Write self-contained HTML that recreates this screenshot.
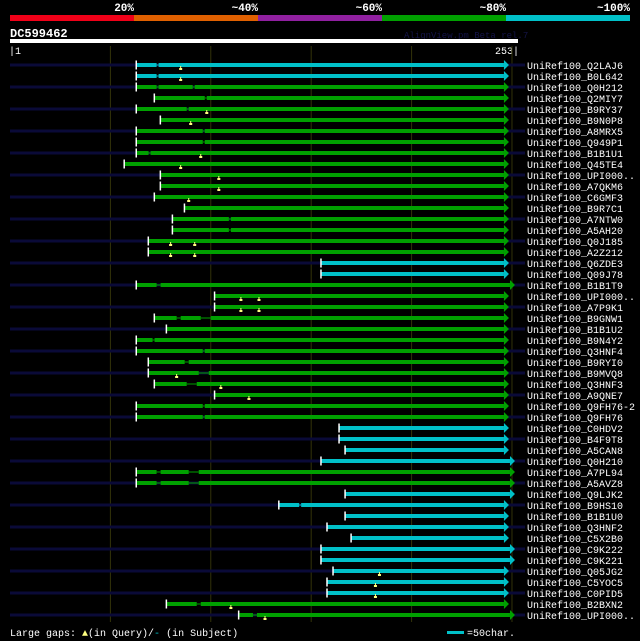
<!DOCTYPE html>
<html><head><meta charset="utf-8">
<style>
html,body{margin:0;padding:0;background:#000;}
svg{display:block;font-family:"Liberation Mono","DejaVu Sans Mono",monospace;}
</style></head>
<body>
<svg id="chart" width="640" height="641" viewBox="0 0 640 641">
  <rect x="0" y="0" width="640" height="641" fill="#000"/>
  <g>
    <rect x="10" y="15" width="124" height="6" fill="#f00018"/>
    <rect x="134" y="15" width="124" height="6" fill="#e06000"/>
    <rect x="258" y="15" width="124" height="6" fill="#9020a0"/>
    <rect x="382" y="15" width="124" height="6" fill="#00a000"/>
    <rect x="506" y="15" width="124" height="6" fill="#00c0c8"/>
    <g font-size="11" font-weight="bold" fill="#fff" text-anchor="end">
      <text x="134" y="11">20%</text>
      <text x="258" y="11">~40%</text>
      <text x="382" y="11">~60%</text>
      <text x="506" y="11">~80%</text>
      <text x="630" y="11">~100%</text>
    </g>
  </g>
  <text x="10" y="37" font-size="12" font-weight="bold" fill="#fff">DC599462</text>
  <text x="404" y="38" font-size="9" fill="#141448">AlignView.pm Beta rel.7</text>
  <rect x="10" y="39" width="508" height="4" fill="#fff"/>
  <text x="9" y="54" font-size="10" fill="#fff">|1</text>
  <text x="519" y="54" font-size="10" fill="#fff" text-anchor="end">253|</text>
  <g id="grid"></g>
  <g id="rows"></g>
  <g>
    <text x="10" y="636" font-size="10" fill="#fff">Large gaps: <tspan fill="#ffff80">▲</tspan>(in Query)/<tspan fill="#00c0c8">-</tspan> (in Subject)</text>
    <rect x="447" y="631" width="17" height="3" fill="#00c0c8"/>
    <text x="467" y="636" font-size="10" fill="#fff">=50char.</text>
  </g>
</svg>
<script>
const names = ["Q2LAJ6","B0L642","Q0H212","Q2MIY7","B9RY37","B9N0P8","A8MRX5","Q949P1","B1B1U1","Q45TE4","UPI000..","A7QKM6","C6GMF3","B9R7C1","A7NTW0","A5AH20","Q0J185","A2Z212","Q6ZDE3","Q09J78","B1B1T9","UPI000..","A7P9K1","B9GNW1","B1B1U2","B9N4Y2","Q3HNF4","B9RYI0","B9MVQ8","Q3HNF3","A9QNE7","Q9FH76-2","Q9FH76","C0HDV2","B4F9T8","A5CAN8","Q0H210","A7PL94","A5AVZ8","Q9LJK2","B9HS10","B1B1U0","Q3HNF2","C5X2B0","C9K222","C9K221","Q05JG2","C5YOC5","C0PID5","B2BXN2","UPI000.."];
const starts = [63,63,63,72,63,75,63,63,63,57,75,75,72,87,81,81,69,69,155,155,63,102,102,72,78,63,63,69,69,72,102,63,63,164,164,167,155,63,63,167,134,167,158,170,155,155,161,158,158,78,114];
const ends = [246,246,246,246,246,246,246,246,246,246,246,246,246,246,246,246,246,246,246,246,249,246,246,246,246,246,246,246,246,246,246,246,246,246,246,246,249,249,249,249,246,246,246,246,249,249,246,246,246,246,249];
const identity = ["c","c","g","g","g","g","g","g","g","g","g","g","g","g","g","g","g","g","c","c","g","g","g","g","g","g","g","g","g","g","g","g","g","c","c","c","c","g","g","c","c","c","c","c","c","c","c","c","c","g","g"];
const gaps = [[[73,74]],[[73,74]],[[73,74],[91,92]],[[97,98]],[[88,89]],[],[[96,97]],[[96,97]],[[69,70]],[],[],[],[],[],[[109,110]],[[109,110]],[],[],[],[],[[73,75]],[],[],[[83,85],[95,100]],[],[[71,72]],[[96,97]],[[87,89]],[[94,99]],[[88,93]],[],[[96,97]],[[96,97]],[],[],[],[],[[73,75],[89,94]],[[73,75],[89,94]],[],[[144,145]],[],[],[],[],[],[],[],[],[[93,95]],[[121,123]]];
const markers = [[85],[85],[],[],[98],[90],[],[],[95],[85],[104],[104],[89],[],[],[],[80,92],[80,92],[],[],[],[115,124],[115,124],[],[],[],[],[],[83],[105],[119],[],[],[],[],[],[],[],[],[],[],[],[],[],[],[],[184],[182],[182],[110],[127]];
const gridTicks = [50,100,150,200,250];

const NS = "http://www.w3.org/2000/svg";
const x = p => 10 + p * 508 / 253;
const y = i => 65 + i * 11;
const colors = {c:"#00c0c8", g:"#00a000"};
function mk(tag, attrs, parent){const e=document.createElementNS(NS,tag);for(const k in attrs)e.setAttribute(k,attrs[k]);parent.appendChild(e);return e;}

const grid = document.getElementById("grid");
gridTicks.forEach(t=>{
  const l = mk("line",{x1:x(t),x2:x(t),y1:46,y2:622,stroke:"#33330a","stroke-width":1},grid);
  
  
});

const rows = document.getElementById("rows");
names.forEach((n,i)=>{
  const g = mk("g",{},rows);
  
  
  const cy = y(i);
  if(i%2===0){
    const s = mk("rect",{x:10,y:cy-1.5,width:515,height:3,fill:"#0a0a38"},g);
    
    
  }
  const col = colors[identity[i]];
  const xs = x(starts[i]), xe = x(ends[i]);
  const segs=[]; let cur=starts[i];
  gaps[i].forEach(gp=>{segs.push([cur,gp[0]]);cur=gp[1];});
  segs.push([cur,ends[i]]);
  segs.forEach(sg=>{
    const r = mk("rect",{x:x(sg[0]),y:cy-2,width:Math.max(0,x(sg[1])-x(sg[0])),height:4,fill:col},g);
    
    
  });
  gaps[i].forEach(gp=>{
    const r = mk("rect",{x:x(gp[0]),y:cy-0.5,width:x(gp[1])-x(gp[0]),height:1,fill:col},g);
    
    
  });
  const tk = mk("rect",{x:xs-1,y:cy-4.5,width:1.5,height:9,fill:"#fff"},g);
  
  
  const ar = mk("polygon",{points:`${xe},${cy-5} ${xe+5},${cy} ${xe},${cy+5}`,fill:col},g);
  
  
  markers[i].forEach(m=>{
    const mx = x(m);
    const st = mk("rect",{x:mx-0.5,y:cy+1,width:1,height:3,fill:"#ffff80"},g);
    
    
    const mb = mk("rect",{x:mx-1.5,y:cy+3,width:3,height:2,fill:"#ffff80"},g);
    
    
  });
  const t = mk("text",{x:527,y:cy+4,"font-size":10,fill:"#fff"},g);
  
  
  t.textContent = "UniRef100_"+n;
});
</script>
</body></html>
